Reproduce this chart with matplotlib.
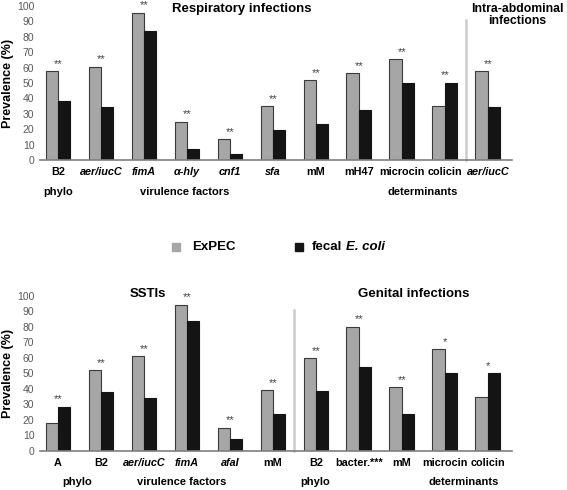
import numpy as np
import matplotlib
matplotlib.use('Agg')
import matplotlib.pyplot as plt

plt.rcParams['font.family'] = ['Liberation Sans', 'DejaVu Sans']

# top panel: respiratory (10 groups) + intra-abdominal (1 group)
top_labels = ['B2', 'aer/iucC', 'fimA', 'α-hly', 'cnf1', 'sfa',
              'mM', 'mH47', 'microcin', 'colicin', 'aer/iucC']
top_italic = [False, True, True, True, True, True, False, False, False, False, True]
top_expec = [57.8, 60.6, 95.7, 24.9, 13.4, 35.0, 52.0, 56.3, 65.4, 34.8, 57.8]
top_fecal = [38.5, 34.2, 84.0, 6.9, 3.7, 19.3, 23.6, 32.3, 50.2, 50.2, 34.2]
top_stars = ['**'] * 11

# bottom panel: SSTIs (6 groups) + genital (5 groups)
bot_labels = ['A', 'B2', 'aer/iucC', 'fimA', 'afaI', 'mM',
              'B2', 'bacter.***', 'mM', 'microcin', 'colicin']
bot_italic = [False, False, True, True, True, False, False, False, False, False, False]
bot_expec = [17.6, 51.8, 60.9, 94.2, 14.8, 39.1, 59.8, 80.0, 40.9, 65.4, 34.8]
bot_fecal = [28.4, 38.1, 34.2, 83.4, 7.3, 23.4, 38.3, 54.2, 23.4, 49.9, 49.9]
bot_stars = ['**', '**', '**', '**', '**', '**', '**', '**', '**', '*', '*']

GRAY = '#a6a6a6'
BLACK = '#141414'
W = 0.29

fig = plt.figure(figsize=(5.67, 4.90), dpi=100)


def panel(rect, labels, italic, expec, fecal, stars, sep):
    ax = fig.add_axes(rect)
    x = np.arange(len(labels))
    ax.bar(x - W / 2, expec, W, color=GRAY, edgecolor='#3a3a3a', linewidth=0.8)
    ax.bar(x + W / 2, fecal, W, color=BLACK, edgecolor='#141414', linewidth=0.8)
    for i in range(len(labels)):
        ax.text(x[i], max(expec[i], fecal[i]) + 1.5, stars[i], ha='center', va='bottom',
                fontsize=8, color='#404040', clip_on=False)
    ax.set_xlim(-0.42, 10.56)
    ax.set_ylim(0, 100)
    ax.set_yticks(range(0, 101, 10))
    ax.tick_params(axis='y', length=0, labelsize=7.5, labelcolor='#595959', pad=4)
    ax.set_xticks(x)
    ax.set_xticklabels(labels, fontsize=7.8, fontweight='bold')
    for t, it in zip(ax.get_xticklabels(), italic):
        if it:
            t.set_fontstyle('italic')
    ax.tick_params(axis='x', length=0, pad=5)
    for s in ['top', 'right', 'left']:
        ax.spines[s].set_visible(False)
    ax.spines['bottom'].set_color('#7f7f7f')
    ax.spines['bottom'].set_linewidth(1.2)
    ax.set_ylabel('Prevalence (%)', fontsize=9, fontweight='bold', labelpad=2)
    ax.plot([sep, sep], [0, 91], color='#cccccc', lw=1.8, clip_on=False)
    return ax


ax1 = panel([0.0705, 0.6735, 0.8325, 0.3143], top_labels, top_italic,
            top_expec, top_fecal, top_stars, 9.5)
ax2 = panel([0.0705, 0.0802, 0.8325, 0.3163], bot_labels, bot_italic,
            bot_expec, bot_fecal, bot_stars, 5.5)


# titles and group labels (figure pixel coords)
def ftext(px, py, s, ha='center', **kw):
    fig.text(px / 567, 1 - py / 490, s, ha=ha, va='center', **kw)


ftext(242, 9, 'Respiratory infections', fontsize=9.5, fontweight='bold')
ftext(517, 15, 'Intra-abdominal\ninfections', fontsize=8.8, fontweight='bold', linespacing=1.05)
ftext(58, 192, 'phylo', fontsize=8, fontweight='bold')
ftext(185, 192, 'virulence factors', fontsize=8, fontweight='bold')
ftext(423, 192, 'determinants', fontsize=8, fontweight='bold')

ftext(148, 294, 'SSTIs', fontsize=9.5, fontweight='bold')
ftext(414, 294, 'Genital infections', fontsize=9.5, fontweight='bold')
ftext(77, 482, 'phylo', fontsize=8, fontweight='bold')
ftext(182, 482, 'virulence factors', fontsize=8, fontweight='bold')
ftext(315, 482, 'phylo', fontsize=8, fontweight='bold')
ftext(464, 482, 'determinants', fontsize=8, fontweight='bold')

# legend
fig.patches.append(plt.Rectangle((172 / 567, 1 - 251 / 490), 8 / 567, 8 / 490,
                                 transform=fig.transFigure, color=GRAY, figure=fig))
ftext(192, 247, 'ExPEC', ha='left', fontsize=9.5, fontweight='bold')
fig.patches.append(plt.Rectangle((295 / 567, 1 - 251 / 490), 8 / 567, 8 / 490,
                                 transform=fig.transFigure, color=BLACK, figure=fig))
ftext(312, 247, 'fecal', ha='left', fontsize=9.5, fontweight='bold')
ftext(346, 247, 'E. coli', ha='left', fontsize=9.5, fontweight='bold', fontstyle='italic')

fig.savefig('out.png', dpi=100)
